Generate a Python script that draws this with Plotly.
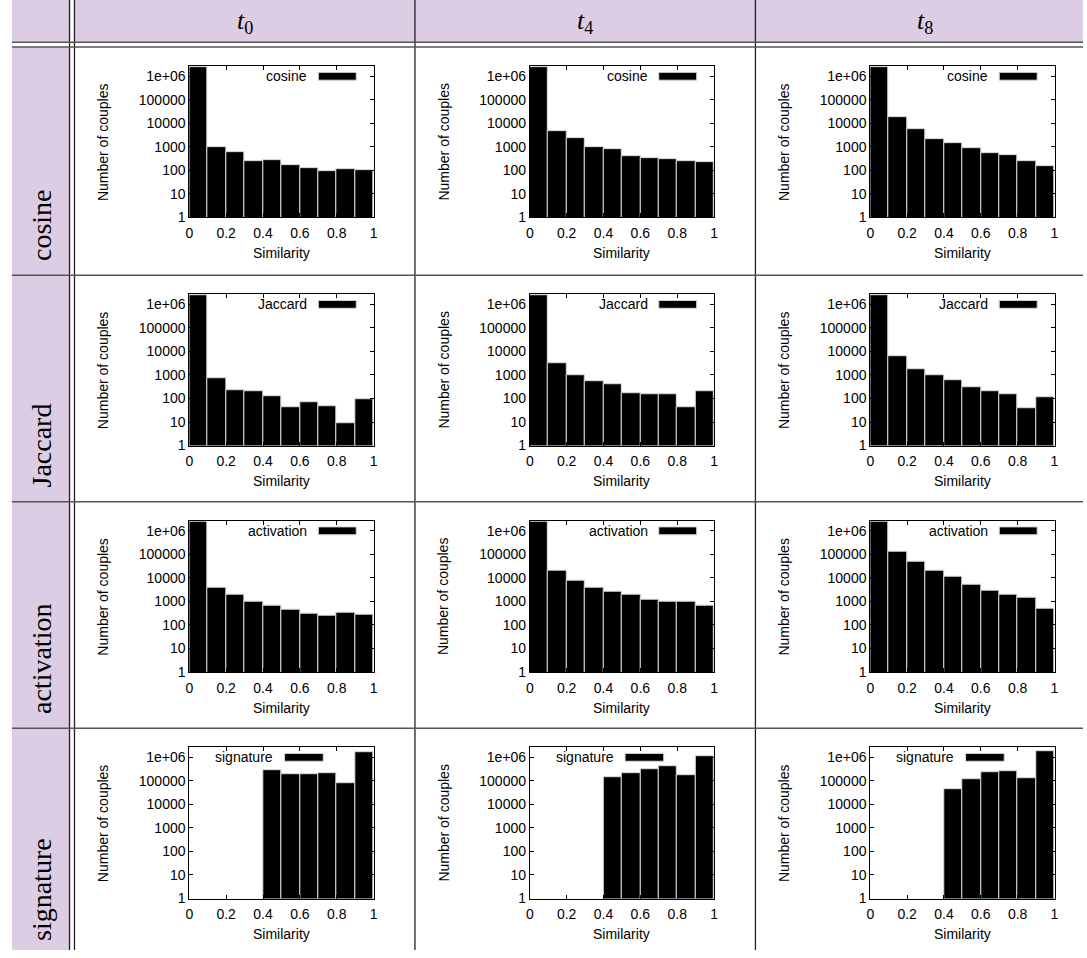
import plotly.graph_objects as go

# ---------------------------------------------------------------- data
bin_left = [0.0, 0.1, 0.2, 0.3, 0.4, 0.5, 0.6, 0.7, 0.8, 0.9]
bin_width = 0.1

measures = ["cosine", "Jaccard", "activation", "signature"]
instants = ["0", "4", "8"]

cosine_t0 = [2500000, 950, 590, 250, 260, 160, 123, 89, 112, 101]
cosine_t4 = [2500000, 4700, 2330, 940, 800, 420, 333, 315, 240, 220]
cosine_t8 = [2500000, 18300, 5400, 2100, 1440, 910, 540, 460, 250, 150]

jaccard_t0 = [2500000, 724, 235, 200, 128, 44, 69, 47, 9, 90]
jaccard_t4 = [2500000, 3200, 940, 560, 405, 175, 149, 150, 41, 200]
jaccard_t8 = [2500000, 6200, 1780, 1000, 580, 295, 200, 145, 38, 109]

activation_t0 = [2500000, 3650, 1850, 940, 630, 460, 310, 257, 320, 273]
activation_t4 = [2500000, 20400, 7950, 3900, 2560, 1850, 1140, 930, 930, 630]
activation_t8 = [2400000, 134000, 49000, 21000, 11700, 4900, 2900, 1860, 1420, 505]

signature_t0 = [None, None, None, None, 290000, 183000, 190000, 203000, 81000, 1580000]
signature_t4 = [None, None, None, None, 144000, 205000, 323000, 405000, 180000, 1170000]
signature_t8 = [None, None, None, None, 44000, 116000, 240000, 255000, 128000, 1740000]

counts = [
    [cosine_t0, cosine_t4, cosine_t8],
    [jaccard_t0, jaccard_t4, jaccard_t8],
    [activation_t0, activation_t4, activation_t8],
    [signature_t0, signature_t4, signature_t8],
]

y_tickvals = [1, 10, 100, 1000, 10000, 100000, 1000000]
y_ticktext = ["1", "10", "100", "1000", "10000", "100000", "1e+06"]
x_tickvals = [0, 0.2, 0.4, 0.6, 0.8, 1]
x_ticktext = ["0", "0.2", "0.4", "0.6", "0.8", "1"]

# ---------------------------------------------------------------- geometry (pixels)
W, H = 1087, 958
LAVENDER = "#dccde4"
SANS = "Liberation Sans, Arial, sans-serif"
SERIF = "Liberation Serif, Times New Roman, serif"

col_left = [71.0, 414.0, 757.0]          # table cell left edges
col_right = [414.0, 757.0, 1099.0]
row_sep = [47.5, 277.5, 505.9, 734.3]      # top edges of body rows
row_bottom = [277.5, 505.9, 734.3, 962.7]
frame_dx, frame_w = 115.7, 185.6           # plot frame inside a cell
frame_dy, frame_h = 19.2, 152.6
y_top_log = 6.43


def px(x):
    return x / W


def py(y):
    return 1 - y / H


fig = go.Figure()
shapes = []
annotations = []

# table backgrounds
shapes.append(dict(type="rect", xref="paper", yref="paper", x0=px(8), x1=px(66),
                   y0=py(0), y1=py(42.5), fillcolor=LAVENDER, line_width=0, layer="below"))
shapes.append(dict(type="rect", xref="paper", yref="paper", x0=px(71), x1=px(1087),
                   y0=py(0), y1=py(42.5), fillcolor=LAVENDER, line_width=0, layer="below"))
shapes.append(dict(type="rect", xref="paper", yref="paper", x0=px(8), x1=px(66),
                   y0=py(47.5), y1=py(958), fillcolor=LAVENDER, line_width=0, layer="below"))

# table rules
for x in [66, 71, 414, 757]:
    shapes.append(dict(type="line", xref="paper", yref="paper", x0=px(x), x1=px(x),
                       y0=py(0), y1=py(958), line=dict(color="#222222", width=1.3)))
for y in [42.5, 47.5, 277.5, 505.9, 734.3]:
    shapes.append(dict(type="line", xref="paper", yref="paper", x0=px(8), x1=px(1087),
                       y0=py(y), y1=py(y), line=dict(color="#555555", width=1.5)))

# column headers t0, t4, t8
for c, k in enumerate(instants):
    annotations.append(dict(xref="paper", yref="paper", x=px((col_left[c] + col_right[c]) / 2),
                            y=py(22), text=f"<i>t</i><sub>{k}</sub>", showarrow=False,
                            xanchor="center", yanchor="middle",
                            font=dict(family=SERIF, size=26, color="black")))

# row headers
for r, name in enumerate(measures):
    annotations.append(dict(xref="paper", yref="paper", x=px(38), y=py(row_bottom[r] - 12),
                            text=name, textangle=-90, showarrow=False,
                            xanchor="center", yanchor="bottom",
                            font=dict(family=SERIF, size=28, color="black")))

# histograms
centres = [b + bin_width / 2 for b in bin_left]
for r, name in enumerate(measures):
    for c in range(3):
        i = r * 3 + c + 1
        sfx = "" if i == 1 else str(i)
        xa, ya = f"x{sfx}", f"y{sfx}"
        left = col_left[c] + frame_dx
        top = row_sep[r] + frame_dy
        fig.add_trace(go.Bar(
            x=centres, y=counts[r][c], width=bin_width,
            marker=dict(color="black", line=dict(color="#d8d8d8", width=1)),
            xaxis=xa, yaxis=ya, showlegend=False, hoverinfo="x+y"))
        axis_common = dict(ticks="inside", ticklen=4, tickcolor="black", mirror="allticks",
                           showline=True, linecolor="black", linewidth=1, showgrid=False,
                           zeroline=False, tickfont=dict(family=SANS, size=14, color="black"))
        fig.layout[f"xaxis{sfx}"] = dict(domain=[px(left), px(left + frame_w)], anchor=ya,
                                         range=[0, 1], tickvals=x_tickvals, ticktext=x_ticktext,
                                         ticklabelstandoff=3, **axis_common)
        fig.layout[f"yaxis{sfx}"] = dict(domain=[py(top + frame_h), py(top)], anchor=xa,
                                         type="log", range=[0, y_top_log], tickvals=y_tickvals,
                                         ticktext=y_ticktext, **axis_common)
        # axis titles
        annotations.append(dict(xref="paper", yref="paper", x=px(left - 86.7),
                                y=py(top + frame_h / 2), text="Number of couples",
                                textangle=-90, showarrow=False, xanchor="center",
                                yanchor="middle", font=dict(family=SANS, size=14, color="black")))
        annotations.append(dict(xref="paper", yref="paper", x=px(left + frame_w / 2),
                                y=py(top + frame_h + 36), text="Similarity", showarrow=False,
                                xanchor="center", yanchor="middle",
                                font=dict(family=SANS, size=14, color="black")))
        # key
        if name == "signature":
            kx0, kx1, tx = 0.517, 0.727, 0.467
        else:
            kx0, kx1, tx = 0.700, 0.906, 0.652
        ky = 6 / y_top_log
        shapes.append(dict(type="rect", xref=f"{xa} domain", yref=f"{ya} domain",
                           x0=kx0, x1=kx1, y0=ky - 0.026, y1=ky + 0.026,
                           fillcolor="black", line=dict(color="#d8d8d8", width=1)))
        annotations.append(dict(xref=f"{xa} domain", yref=f"{ya} domain", x=tx, y=ky,
                                text=name, showarrow=False, xanchor="right", yanchor="middle",
                                font=dict(family=SANS, size=14, color="black")))

fig.update_layout(width=W, height=H, autosize=False, margin=dict(l=0, r=0, t=0, b=0),
                  paper_bgcolor="white", plot_bgcolor="white", bargap=0,
                  shapes=shapes, annotations=annotations)

fig.write_html("out.html")
